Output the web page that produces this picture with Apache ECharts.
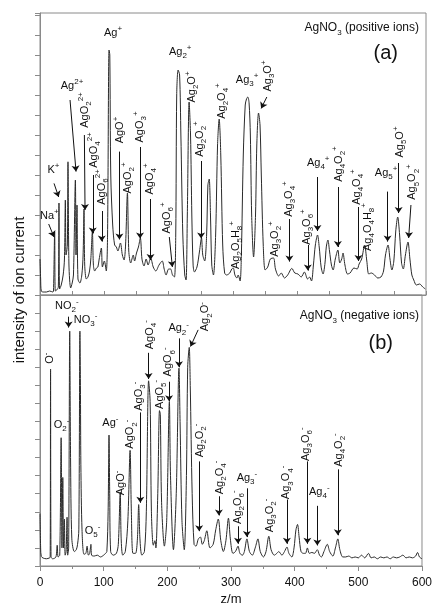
<!DOCTYPE html>
<html>
<head>
<meta charset="utf-8">
<script src="https://cdn.jsdelivr.net/npm/echarts@6/dist/echarts.min.js"></script>
<style>
html,body{margin:0;padding:0;background:#fff}
#chart{width:435px;height:607px}
</style>
</head>
<body>
<div id="chart"></div>
<script>
// z/m, intensity (arb. units)
var posIons = [
  [0,18],[1,8],[2,2],[5,1.5],[10,1.5],[15,2],[20,1.5],[21,2],[22.8,31.6],[23.8,2],[26,2.5],[28.5,4],[29.5,46],[30.5,3],
  [33,5],[36,10],[38,18],[39.4,47.5],[40.5,20],[42.5,25],[43.5,66.6],[45,15],[47.7,3.5],[50,6],[52,10],[55,57.5],[56,20],
  [57.5,45],[59,8],[62,6],[65,10],[67,20],[68.4,43],[69.5,15],[72,8],[74.5,9],[77,12],[79,18],[81.4,31.6],[83,15],[85,12],
  [87.8,13.5],[90,14],[92,18],[95.4,23.5],[97,14],[100,17],[103,12],[105,30],[107.3,122.5],[108.5,120],[110,60],[113,35],
  [116,25],[118.7,24],[121,22],[125,26],[128,20],[130.7,17.5],[133,25],[135.9,51],[138,22],[141,16],[145,20],[147,17],
  [150,21],[153,24],[156,28.5],[158.5,18],[161.7,14.5],[165,18],[168,15],[172,18.5],[176,14],[180,12],[185,15],[190,17],
  [193,13],[196,10],[200,13],[203,13],[206,10],[209,9],[211,30],[212.5,100],[214.7,112.5],[217,110],[219,80],[222,30],
  [225,10],[227,7.5],[229,40],[231.8,96.5],[234,80],[236,40],[238,15],[240,11.5],[244,14],[248,22],[251,28.5],[253,20],
  [256,17],[259,30],[261,55],[263,58],[265,40],[267,15],[269.6,10],[273,30],[276,75],[278.5,88],[281,70],[284,25],[287,11],
  [290,10],[295,11],[298,13],[300.4,13.5],[303,10],[306,8.5],[308,10],[311,7],[313,20],[316,70],[319,95],[321,98],[323,99],
  [325,96],[327,80],[329,40],[332,19],[335,40],[337,75],[339.7,91],[342,85],[344,60],[347,25],[350,12.5],[354,14],[358,18],
  [363,18.5],[366,13],[371,9.5],[375,11],[380,8.5],[385,10],[391.5,13.3],[396,11],[401,10.5],[406,9],[411,11.5],[416,8],
  [419,9],[422,7],[425,15],[428,25],[431.4,30],[434,24],[437,14],[440,10.5],[443,16],[445,24],[447.5,27.5],[450,22],
  [453,15],[455.6,12.5],[459,18],[463,22.5],[466,16],[469,18],[471,21],[474,15],[478,10.5],[482,11],[488,13.5],[493,13],
  [496,15.5],[500,18],[504.6,25],[508,17],[511,10.5],[515,11],[520,10],[525,8.5],[530,9],[534,12],[537,20],[541,25],
  [544,18],[547,12.5],[550,17],[553,32],[556,39],[559,30],[562,16],[564.7,13],[568,20],[572,26.5],[575,18],[578,10],
  [581,7.5],[585,5],[590,5.5],[595,4],[599,3]
];
var negIons = [
  [0,29],[1,10],[2,5.3],[5,4.4],[10,4],[15,4.5],[16,5],[16.6,109],[17.3,5],[20,4],[25,5],[27,11.5],[28.5,5],[31,6],
  [33.2,71],[34.5,10],[35.8,49],[37,10],[38.3,26],[39.5,6],[41,8],[42.5,27],[43.5,6],[45,10],[46.7,130],[48,60],[50,15],
  [53.9,8],[57,9],[59,12],[61,20],[62.7,130],[63.5,100],[64.2,56],[66,20],[69,6.5],[72,7],[74,11],[76,6],[78,7],[80,12],
  [81,6],[85,5.5],[90,6],[95,5],[100,6],[103,7],[105,8],[107,30],[108.4,72.5],[109.5,40],[111,8],[115,6],[120,7],[123,12],
  [126,41],[127.5,15],[130,6],[134,8],[138,25],[141.5,64],[143.5,30],[146,7],[150,7],[153,15],[155,34],[157,15],[160,6],
  [164,8],[167,30],[170.6,102.5],[173,91],[175,30],[178,11.5],[180.5,14],[182,10],[185,40],[187.7,86],[189,84],[191,35],
  [195.4,11],[199,25],[203.2,91],[205,50],[209.6,9],[214,40],[218.3,109.5],[220,80],[223,25],[226.6,9],[230,50],[232,110],
  [234.4,121],[236,100],[239,40],[242,12],[245,11],[248.7,15],[252,16],[255,12],[258,14],[262,19.5],[267,10],[272,12],
  [276,20],[280,26],[284,14],[288,8],[292,14],[296,26.5],[299,15],[303,7],[307,8],[311,11],[314,7],[318,6],[321,8],
  [325,15],[329,8],[333.5,6],[338,10],[342.3,15],[346,8],[351,5],[355,8],[359.4,16.5],[363,9],[368,6],[372,7],[375,8],
  [380,6],[384,8],[387.9,10.5],[391,7],[395.6,5],[399,10],[402,20],[404.5,23],[407,16],[410,8],[413.8,7],[417,7],[420,10],
  [423,7],[427,7.5],[431,7],[435.6,9],[439,6],[442,5],[446,8],[451.3,12],[455,8],[460,5.5],[464,10],[467.8,15],[471,9],
  [475.6,5],[480,5],[485,5.5],[490,4.5],[495,5],[500,4.5],[505,6],[510,4.5],[516,7],[520,4.5],[525,5],[530,4],[535,5],
  [540,4.5],[545,5],[550,4],[555,5],[560,4.5],[565,5],[570,6],[575,4.5],[580,5],[585,4.5],[590,5.5],[593,7.5],[596,5],[600,4]
];
// peak assignments: formula, label x, label y, rotation, arrow [x1,y1,x2,y2]
var posLabels = [
  ['Na^+', 14.5, 39.5, 0, [13.5, 35.5, 21.8, 29]],
  ['K^+', 20.8, 62.5, 0, [21.8, 55.8, 29, 49]],
  ['Ag^(2+)', 49.8, 104.5, 0, [46.7, 97.5, 56, 61.7]],
  ['AgO_2^(2+)', 70, 92.5, 90, [69, 80, 70, 42.5]],
  ['AgO_4^(2+)', 84, 72.5, 90, [82, 60, 82, 30.8]],
  ['AgO_6^(2+)', 96, 54, 90, [96, 42, 96, 26.7]],
  ['Ag^+', 113.6, 131, 0, null],
  ['AgO^+', 124.5, 82.5, 90, [123.4, 71.7, 123.4, 27.8]],
  ['AgO_2^+', 136, 58.5, 90, null],
  ['AgO_3^+', 155.5, 84, 90, [155.5, 74, 155.5, 28.3]],
  ['AgO_4^+', 171, 58, 90, [171.8, 48, 171.8, 17.5]],
  ['AgO_6^+', 197, 38.5, 90, [201, 29, 205.8, 14]],
  ['Ag_2^+', 218, 121.5, 0, null],
  ['Ag_2O^+', 236, 104, 90, null],
  ['Ag_2O_2^+', 249, 78, 90, [250.4, 67, 250.4, 28.3]],
  ['Ag_2O_4^+', 282.6, 97, 90, null],
  ['Ag_2O_5H_8^+', 305, 25, 90, null],
  ['Ag_3^+', 322, 107.5, 0, null],
  ['Ag_3O^+', 354.7, 109.5, 90, [352.6, 99, 343.8, 93.3]],
  ['Ag_3O_2^+', 365.6, 28, 90, null],
  ['Ag_3O_4^+', 387.4, 48, 90, [387.7, 38, 387.7, 16.7]],
  ['Ag_3O_6^+', 415, 34, 90, [416.3, 25, 416.3, 12.2]],
  ['Ag_4^+', 432.5, 66, 0, [431.3, 59, 431.3, 32]],
  ['Ag_4O_2^+', 464.4, 65.5, 90, [463, 54, 463, 24]],
  ['Ag_4O_4^+', 493, 54, 90, [495, 44, 495, 17]],
  ['Ag_4O_4H_8^+', 510, 34, 90, null],
  ['Ag_5^+', 538, 61, 0, [540.3, 51.7, 540.3, 26.7]],
  ['Ag_5O^+', 560, 76.5, 90, [557.5, 66, 557.5, 41]],
  ['Ag_5O_2^+', 578.7, 56.5, 90, [576.6, 45, 573, 28.5]]
];
var negLabels = [
  ['O^-', 15, 115, 90, null],
  ['O_2^-', 34, 78, 0, null],
  ['NO_2^-', 42, 144, 0, [45, 138, 45, 132]],
  ['NO_3^-', 71.5, 136, 0, null],
  ['O_5^-', 82.5, 19.5, 0, null],
  ['Ag^-', 110.5, 79, 0, null],
  ['AgO^-', 126.5, 46, 90, null],
  ['AgO_2^-', 142, 73, 90, null],
  ['AgO_3^-', 155, 94, 90, [157.6, 85, 157.6, 35]],
  ['AgO_4^-', 172.7, 128, 90, [170.6, 118, 170.6, 103.5]],
  ['AgO_5^-', 188, 95, 90, null],
  ['AgO_6^-', 201.7, 113, 90, [202.7, 102, 202.7, 91.2]],
  ['Ag_2^-', 217.8, 131.5, 0, [218.3, 126, 218.3, 110]],
  ['Ag_2O^-', 259.8, 138, 90, [248.4, 130.7, 236.4, 121.5]],
  ['Ag_2O_2^-', 251.5, 69.5, 90, [250, 57.9, 250, 19.3]],
  ['Ag_2O_4^-', 282.7, 49, 90, [281, 38.6, 281, 28]],
  ['Ag_2O_6^-', 311, 32.6, 90, [311, 22, 311, 12.3]],
  ['Ag_3^-', 325, 49, 0, [325, 43, 325, 16]],
  ['Ag_3O_2^-', 360.5, 28, 90, null],
  ['Ag_3O_4^-', 387, 46.3, 90, [387.8, 36.8, 387.8, 12.3]],
  ['Ag_3O_6^-', 418, 67.4, 90, [420, 57.9, 420, 12.3]],
  ['Ag_4^-', 438.7, 41, 0, [435.6, 33.3, 435.6, 11.4]],
  ['Ag_4O_2^-', 469.4, 64.2, 90, [467.8, 53.5, 467.8, 17]]
];

var FONT = 'Liberation Sans';
var ink = '#111';
var frame = '#8a8a8a';

var chem = {
  n: {fontSize: 11, lineHeight: 16, color: ink, fontFamily: FONT},
  sub: {fontSize: 8, lineHeight: 8, verticalAlign: 'bottom', color: ink, fontFamily: FONT},
  sup: {fontSize: 8, lineHeight: 8, verticalAlign: 'top', color: ink, fontFamily: FONT}
};
var titleRich = {
  n: {fontSize: 12, lineHeight: 18, color: ink, fontWeight: 'normal', fontFamily: FONT},
  sub: {fontSize: 8, lineHeight: 8, verticalAlign: 'bottom', color: ink, fontWeight: 'normal', fontFamily: FONT}
};

// 'AgO_2^(2+)' -> rich text
function toRich(s) {
  var out = '', buf = '', i = 0;
  while (i < s.length) {
    var c = s[i];
    if (c === '_' || c === '^') {
      if (buf) { out += '{n|' + buf + '}'; buf = ''; }
      var t;
      if (s[i + 1] === '(') {
        var j = s.indexOf(')', i);
        t = s.slice(i + 2, j);
        i = j + 1;
      } else {
        t = s[i + 1];
        i += 2;
      }
      out += '{' + (c === '_' ? 'sub' : 'sup') + '|' + t + '}';
    } else {
      buf += c;
      i++;
    }
  }
  if (buf) out += '{n|' + buf + '}';
  return out;
}

function labelPoints(list) {
  return list.map(function (d) {
    var txt = toRich(d[0]);
    return {
      coord: [d[1], d[2]],
      symbol: 'circle',
      symbolSize: 0,
      itemStyle: {color: 'rgba(0,0,0,0)'},
      label: {
        show: true,
        position: 'inside',
        rotate: d[3],
        formatter: function () { return txt; },
        rich: chem
      }
    };
  });
}

function arrows(list) {
  return list.filter(function (d) { return d[4]; }).map(function (d) {
    var a = d[4];
    return [{coord: [a[0], a[1]]}, {coord: [a[2], a[3]]}];
  });
}

function spectrum(data, idx, labels) {
  return {
    type: 'line',
    xAxisIndex: idx,
    yAxisIndex: idx,
    data: data,
    symbol: 'none',
    smooth: 0.3,
    lineStyle: {color: '#2a2a2a', width: 1},
    markLine: {
      silent: true,
      symbol: ['none', 'arrow'],
      symbolSize: 6,
      label: {show: false},
      lineStyle: {color: '#111', width: 1, type: 'solid'},
      data: arrows(labels)
    },
    markPoint: {
      silent: true,
      data: labelPoints(labels)
    }
  };
}

var chart = echarts.init(document.getElementById('chart'));
chart.setOption({
  animation: false,
  textStyle: {fontFamily: FONT},
  title: [
    {text: '{n|AgNO}{sub|3}{n| (positive ions)}', right: 11, top: 14, textStyle: {fontWeight: 'normal', rich: titleRich}},
    {text: '(a)', right: 32, top: 38, textStyle: {fontSize: 20, fontWeight: 'normal', color: ink}},
    {text: '{n|AgNO}{sub|3}{n| (negative ions)}', right: 11, top: 302, textStyle: {fontWeight: 'normal', rich: titleRich}},
    {text: '(b)', right: 37, top: 328, textStyle: {fontSize: 20, fontWeight: 'normal', color: ink}}
  ],
  graphic: [{
    type: 'text',
    x: 20, y: 290,
    rotation: Math.PI / 2,
    style: {text: 'intensity of ion current', fontSize: 15, fontFamily: FONT, fill: ink, align: 'center', verticalAlign: 'middle'}
  }],
  grid: [
    {left: 40, right: 9, top: 13, height: 282, show: true, borderColor: frame, borderWidth: 1},
    {left: 40, right: 9, top: 295, height: 285, show: true, borderColor: frame, borderWidth: 1}
  ],
  xAxis: [
    {gridIndex: 0, type: 'value', min: 0, max: 600, interval: 50,
     axisLine: {lineStyle: {color: frame}},
     axisTick: {inside: true, length: 4, lineStyle: {color: frame}},
     axisLabel: {show: false}, splitLine: {show: false}},
    {gridIndex: 1, type: 'value', min: 0, max: 600, interval: 100,
     axisLine: {lineStyle: {color: frame}},
     axisTick: {length: 5, lineStyle: {color: frame}},
     minorTick: {show: true, splitNumber: 2, length: 3, lineStyle: {color: frame}},
     axisLabel: {fontSize: 12, color: ink, margin: 11},
     splitLine: {show: false},
     name: 'z/m', nameLocation: 'middle', nameGap: 27,
     nameTextStyle: {fontSize: 13, color: ink}}
  ],
  yAxis: [
    {gridIndex: 0, type: 'value', min: 0, max: 141, interval: 10,
     axisLine: {show: true, lineStyle: {color: frame}},
     axisTick: {show: true, length: 5, lineStyle: {color: frame}},
     axisLabel: {show: false}, splitLine: {show: false}},
    {gridIndex: 1, type: 'value', min: 0, max: 150, interval: 10,
     axisLine: {show: true, lineStyle: {color: frame}},
     axisTick: {show: true, length: 5, lineStyle: {color: frame}},
     axisLabel: {show: false}, splitLine: {show: false}}
  ],
  series: [
    spectrum(posIons, 0, posLabels),
    spectrum(negIons, 1, negLabels)
  ]
});
</script>
</body>
</html>
